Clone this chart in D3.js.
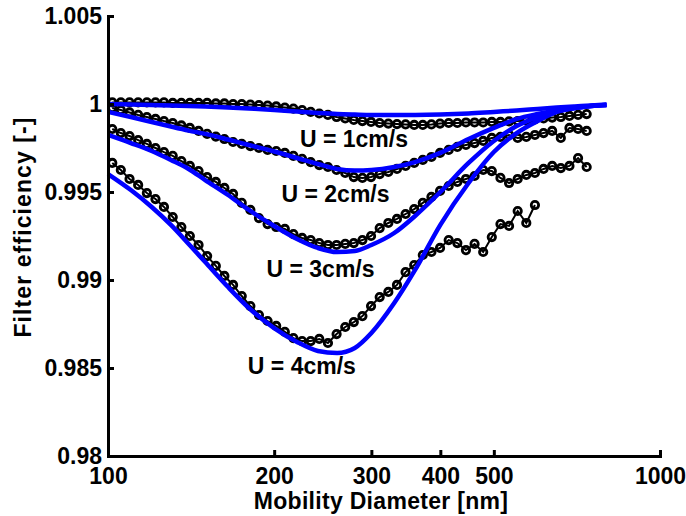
<!DOCTYPE html>
<html>
<head>
<meta charset="utf-8">
<script src="https://cdn.jsdelivr.net/npm/d3@7"></script>
<style>
  html, body { margin: 0; padding: 0; background: #fff; }
  svg text { font-family: "Liberation Sans", Arial, Helvetica, sans-serif; font-weight: bold; }
</style>
</head>
<body>
<svg id="chart" width="686" height="516"></svg>
<script>
// ---------------- data ----------------
const diameters = [101.8, 105.5, 109.4, 113.4, 117.6, 121.9, 126.3, 131.0, 135.8, 140.7,
  145.9, 151.2, 156.8, 162.5, 168.5, 174.7, 181.1, 187.7, 194.6, 201.7,
  209.1, 216.7, 224.7, 232.9, 241.4, 250.3, 259.5, 269.0, 278.8, 289.0,
  299.6, 310.6, 322.0, 333.8, 346.0, 358.7, 371.8, 385.4, 399.5, 414.2,
  429.4, 445.1, 461.4, 478.3, 495.8, 514.0, 532.8, 552.3, 572.5, 593.5,
  615.3, 637.8, 661.2, 685.4, 710.5, 736.5];

const expU1 = [1.00009, 1.00009, 1.00009, 1.00009, 1.00009, 1.00009, 1.00009, 1.00006, 1.00006, 1.00006,
  1.00006, 1.00006, 1.00003, 1.00003, 1.00000, 1.00000, 0.99997, 0.99994, 0.99991, 0.99986,
  0.99980, 0.99974, 0.99966, 0.99955, 0.99946, 0.99938, 0.99926, 0.99918, 0.99909, 0.99903,
  0.99898, 0.99892, 0.99889, 0.99886, 0.99884, 0.99881, 0.99881, 0.99884, 0.99889, 0.99892,
  0.99892, 0.99895, 0.99895, 0.99895, 0.99898, 0.99898, 0.99901, 0.99903, 0.99906, 0.99912,
  0.99918, 0.99923, 0.99926, 0.99932, 0.99938, 0.99943];

const expU2 = [0.99977, 0.99966, 0.99952, 0.99938, 0.99926, 0.99915, 0.99903, 0.99892, 0.99878, 0.99864,
  0.99847, 0.99830, 0.99815, 0.99801, 0.99784, 0.99773, 0.99761, 0.99750, 0.99739, 0.99733,
  0.99722, 0.99705, 0.99688, 0.99670, 0.99653, 0.99642, 0.99625, 0.99608, 0.99585, 0.99580,
  0.99585, 0.99602, 0.99614, 0.99631, 0.99648, 0.99665, 0.99682, 0.99699, 0.99722, 0.99739,
  0.99756, 0.99767, 0.99778, 0.99790, 0.99807, 0.99813, 0.99824, 0.99807, 0.99813, 0.99824,
  0.99835, 0.99847, 0.99807, 0.99864, 0.99858, 0.99847];

const expU3 = [0.99858, 0.99835, 0.99818, 0.99795, 0.99773, 0.99750, 0.99727, 0.99705, 0.99676, 0.99648,
  0.99619, 0.99585, 0.99557, 0.99523, 0.99489, 0.99438, 0.99398, 0.99352, 0.99318, 0.99301,
  0.99290, 0.99261, 0.99239, 0.99227, 0.99210, 0.99199, 0.99199, 0.99205, 0.99210, 0.99227,
  0.99250, 0.99295, 0.99324, 0.99347, 0.99375, 0.99403, 0.99438, 0.99472, 0.99506, 0.99534,
  0.99557, 0.99574, 0.99591, 0.99625, 0.99619, 0.99580, 0.99551, 0.99574, 0.99597, 0.99608,
  0.99631, 0.99648, 0.99636, 0.99648, 0.99693, 0.99642];

const expU4 = [0.99665, 0.99625, 0.99574, 0.99540, 0.99494, 0.99460, 0.99415, 0.99358, 0.99301, 0.99250,
  0.99199, 0.99136, 0.99080, 0.99023, 0.98972, 0.98909, 0.98852, 0.98801, 0.98767, 0.98739,
  0.98705, 0.98670, 0.98653, 0.98653, 0.98665, 0.98642, 0.98693, 0.98733, 0.98761, 0.98795,
  0.98852, 0.98903, 0.98932, 0.98972, 0.99045, 0.99085, 0.99142, 0.99159, 0.99182, 0.99227,
  0.99210, 0.99170, 0.99205, 0.99159, 0.99244, 0.99318, 0.99307, 0.99392, 0.99324, 0.99426];

const modelDiameters = [100, 110, 120, 130, 140, 150, 165, 180, 200, 220, 240, 260, 280,
  300, 330, 360, 400, 450, 500, 550, 600, 650, 700, 750, 800];

const modelU1 = [1.00000, 0.99997, 0.99994, 0.99991, 0.99989, 0.99986, 0.99980, 0.99974, 0.99966, 0.99957,
  0.99949, 0.99943, 0.99940, 0.99938, 0.99938, 0.99938, 0.99940, 0.99946, 0.99955, 0.99963,
  0.99972, 0.99980, 0.99986, 0.99991, 0.99997];
const modelU2 = [0.99955, 0.99926, 0.99898, 0.99872, 0.99849, 0.99830, 0.99798, 0.99767, 0.99730, 0.99693,
  0.99659, 0.99631, 0.99622, 0.99625, 0.99642, 0.99670, 0.99722, 0.99801, 0.99864, 0.99915,
  0.99943, 0.99963, 0.99977, 0.99989, 0.99994];
const modelU3 = [0.99824, 0.99778, 0.99733, 0.99682, 0.99631, 0.99568, 0.99483, 0.99398, 0.99307, 0.99233,
  0.99182, 0.99159, 0.99165, 0.99199, 0.99267, 0.99364, 0.99500, 0.99665, 0.99790, 0.99875,
  0.99926, 0.99960, 0.99977, 0.99989, 0.99994];
const modelU4 = [0.99602, 0.99511, 0.99415, 0.99313, 0.99205, 0.99102, 0.98960, 0.98841, 0.98727, 0.98648,
  0.98597, 0.98585, 0.98614, 0.98699, 0.98869, 0.99057, 0.99313, 0.99551, 0.99727, 0.99835,
  0.99903, 0.99955, 0.99977, 0.99989, 0.99994];

const xTickValues = [100, 200, 300, 400, 500, 1000];
const xTickLabels = ["100", "200", "300", "400", "500", "1000"];
const yTickValues = [0.98, 0.985, 0.99, 0.995, 1, 1.005];
const yTickLabels = ["0.98", "0.985", "0.99", "0.995", "1", "1.005"];

const seriesLabels = ["U = 1cm/s", "U = 2cm/s", "U = 3cm/s", "U = 4cm/s"];
// annotation anchors in data coordinates (diameter, efficiency)
const labelAnchorD = [222.7, 206.2, 193.7, 179.2];
const labelAnchorE = [0.99756, 0.99443, 0.99017, 0.98466];

const xTitle = "Mobility Diameter [nm]";
const yTitle = "Filter efficiency [-]";

// ---------------- chart ----------------
const svg = d3.select("#chart");
const FS = 23;
const x = d3.scaleLog().domain([100, 1000]).range([108, 660]);
const y = d3.scaleLinear().domain([0.98, 1.005]).range([456, 16]);

const expSeries = [expU1, expU2, expU3, expU4];
const modelSeries = [modelU1, modelU2, modelU3, modelU4];

const line = d3.line().x(d => x(d[0])).y(d => y(d[1]));

// experimental data: black line + open circles
expSeries.forEach(vals => {
  const pts = vals.map((v, i) => [diameters[i], v]);
  const g = svg.append("g");
  g.append("path").datum(pts).attr("d", line)
    .attr("fill", "none").attr("stroke", "#000").attr("stroke-width", 2);
  g.selectAll("circle").data(pts).join("circle")
    .attr("cx", d => x(d[0])).attr("cy", d => y(d[1])).attr("r", 3.7)
    .attr("fill", "none").attr("stroke", "#000").attr("stroke-width", 2.8);
});

// model curves: blue
const smooth = d3.line().x(d => x(d[0])).y(d => y(d[1])).curve(d3.curveMonotoneX);
modelSeries.forEach(vals => {
  const pts = vals.map((v, i) => [modelDiameters[i], v]);
  svg.append("path").datum(pts).attr("d", smooth)
    .attr("fill", "none").attr("stroke", "#0000ff").attr("stroke-width", 4.5)
    .attr("stroke-linejoin", "round");
});

// axes
const xAxis = d3.axisBottom(x).tickValues(xTickValues)
  .tickFormat((d, i) => xTickLabels[i]).tickSizeInner(-6).tickSizeOuter(0).tickPadding(12);
const yAxis = d3.axisLeft(y).tickValues(yTickValues)
  .tickFormat((d, i) => yTickLabels[i]).tickSizeInner(-6).tickSizeOuter(0).tickPadding(6);

const gx = svg.append("g").attr("transform", "translate(0,456)").call(xAxis);
const gy = svg.append("g").attr("transform", "translate(108,0)").call(yAxis);
[gx, gy].forEach(g => {
  g.select(".domain").attr("stroke", "#000").attr("stroke-width", 3).attr("stroke-linecap", "square");
  g.selectAll(".tick line").attr("stroke", "#000").attr("stroke-width", 3);
  g.selectAll(".tick text").attr("fill", "#000")
    .style("font-size", FS + "px").style("font-weight", "bold")
    .style("font-family", '"Liberation Sans", Arial, sans-serif');
});

// series annotations
seriesLabels.forEach((t, i) => {
  svg.append("text").attr("x", x(labelAnchorD[i])).attr("y", y(labelAnchorE[i]))
    .attr("text-anchor", "start").style("font-size", FS + "px").attr("fill", "#000").text(t);
});

// axis titles
svg.append("text").attr("x", 381).attr("y", 509).attr("text-anchor", "middle")
  .style("font-size", FS + "px").style("letter-spacing", "0.3px").attr("fill", "#000").text(xTitle);
svg.append("text").attr("transform", "translate(31,227) rotate(-90)").attr("text-anchor", "middle")
  .style("font-size", FS + "px").style("letter-spacing", "1.1px").attr("fill", "#000").text(yTitle);
</script>
</body>
</html>
